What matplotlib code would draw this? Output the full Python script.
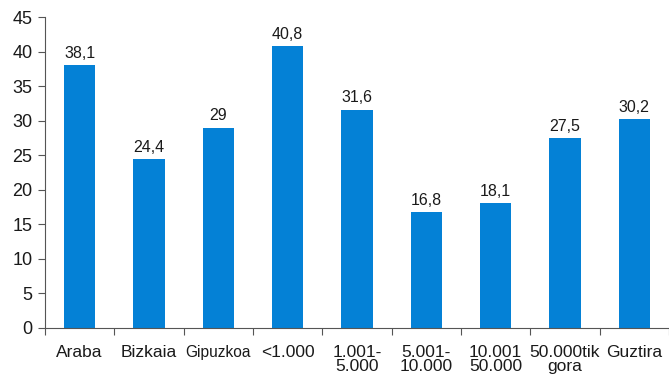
import matplotlib
matplotlib.use("Agg")
import matplotlib.pyplot as plt

categories = ["Araba", "Bizkaia", "Gipuzkoa", "<1.000", "1.001-\n5.000",
              "5.001-\n10.000", "10.001\n50.000", "50.000tik\ngora", "Guztira"]
values = [38.1, 24.4, 29, 40.8, 31.6, 16.8, 18.1, 27.5, 30.2]
value_labels = ["38,1", "24,4", "29", "40,8", "31,6", "16,8", "18,1", "27,5", "30,2"]
yticks = [0, 5, 10, 15, 20, 25, 30, 35, 40, 45]

plt.rcParams["font.family"] = ["Liberation Sans", "DejaVu Sans"]

fig = plt.figure(figsize=(6.69, 3.79), dpi=100)
ax = fig.add_axes([45 / 669, 1 - 328 / 379, 1 - 45 / 669, (328 - 17) / 379])

x = list(range(len(categories)))
ax.bar(x, values, width=0.45, color="#0481D6", zorder=2)
for xi, v, lab in zip(x, values, value_labels):
    ax.text(xi, v + 0.6, lab, ha="center", va="bottom", fontsize=11.5, color="#1a1a1a")

ax.set_xlim(-0.5, len(categories) - 0.5)
ax.set_ylim(0, 45)
ax.set_yticks(yticks)
ax.set_yticklabels([str(t) for t in yticks], fontsize=13, color="#1a1a1a")

# category boundaries carry the tick marks, labels sit at the bar centres
ax.set_xticks([i - 0.5 for i in x] + [len(categories) - 0.5])
ax.set_xticklabels([])
ax.set_xticks(x, minor=True)
labels = ax.set_xticklabels(categories, minor=True, fontsize=12.5, color="#1a1a1a",
                            linespacing=0.92)
labels[2].set_fontsize(11.2)
ax.tick_params(axis="x", which="minor", length=0, pad=12)
ax.tick_params(axis="x", which="major", length=5, color="#555555")
ax.tick_params(axis="y", length=5, color="#555555", pad=4)

for side in ["top", "right"]:
    ax.spines[side].set_visible(False)
ax.spines["left"].set_color("#555555")
ax.spines["bottom"].set_color("#555555")

fig.savefig("out.png", dpi=100)
